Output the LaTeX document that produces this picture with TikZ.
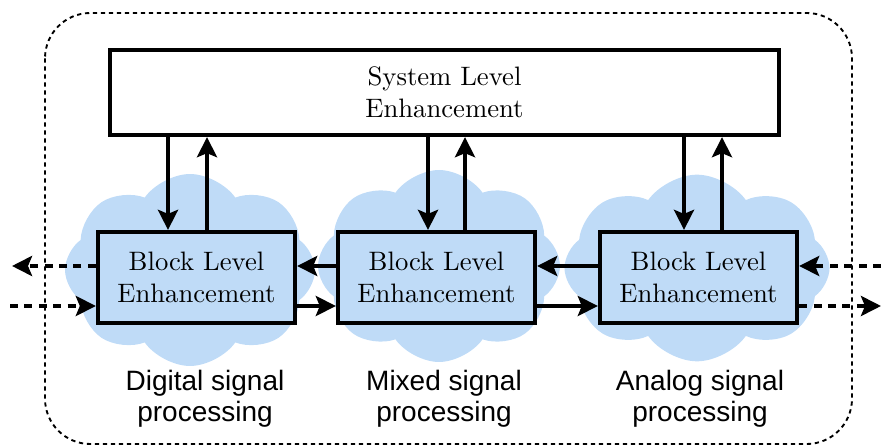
\documentclass[tikz,border=0pt]{standalone}
\usepackage{fontspec}
\usepackage{tikz}
\usetikzlibrary{arrows.meta,shapes.symbols}
\newfontfamily\labelfont{Liberation Sans}
\definecolor{cloudblue}{RGB}{164,204,244}
\definecolor{boxblue}{RGB}{191,219,247}

\begin{document}
\begin{tikzpicture}[x=0.375pt,y=-0.375pt,
    blockbox/.style={draw,line width=1.6pt,fill=boxblue,minimum width=73.9pt,minimum height=34.1pt,align=center,inner sep=0pt},
    puff/.style={cloud,cloud puffs=8,cloud puff arc=110,fill=cloudblue,fill opacity=0.7,draw=none,inner sep=0pt},
    arr/.style={line width=1.8pt,-{Stealth[length=7.5pt,width=7.5pt,inset=1.5pt]}},
    darr/.style={arr,dash pattern=on 3pt off 2.4pt},
    caption/.style={align=center,font=\labelfont\fontsize{10.5}{11.5}\selectfont}]
          \useasboundingbox (0,0) rectangle (881,445);
          \draw[line width=0.7pt,dash pattern=on 1.6pt off 1.4pt,rounded corners=17pt] (45,13) rectangle (852,444);

          % clouds behind the blocks
          \node[puff,minimum width=93.75pt,minimum height=72pt] (c1) at (190,270) {};
          \node[puff,minimum width=90.75pt,minimum height=72pt] (c2) at (439,266) {};
          \node[puff,minimum width=99.4pt,minimum height=70pt] (c3) at (697,268) {};

          \node[draw,line width=1.6pt,fill=white,minimum width=250.9pt,minimum height=31.9pt,align=center] (sys) at (444.5,92.5) {System Level\\Enhancement};
          \node[blockbox] (blk1) at (196.5,277.5) {Block Level\\Enhancement};
          \node[blockbox] (blk2) at (436.5,277.5) {Block Level\\Enhancement};
          \node[blockbox] (blk3) at (698.5,277.5) {Block Level\\Enhancement};

          \foreach \b/\dn/\up in {blk1/168/207,blk2/428/465,blk3/684/722} {
            \draw[arr] (sys.south -| \dn,0) -- (\b.north -| \dn,0);
            \draw[arr] (\b.north -| \up,0) -- (sys.south -| \up,0);
          }

          \draw[arr] (blk2.west |- 0,266) -- (blk1.east |- 0,266);
          \draw[arr] (blk3.west |- 0,266) -- (blk2.east |- 0,266);
          \draw[arr] (blk1.east |- 0,306) -- (blk2.west |- 0,306);
          \draw[arr] (blk2.east |- 0,306) -- (blk3.west |- 0,306);

          \coordinate (outl) at (12,266);
          \coordinate (inl) at (10,306);
          \coordinate (inr) at (881,266);
          \coordinate (outr) at (881,306);
          \draw[darr] (blk1.west |- outl) -- (outl);
          \draw[darr] (inl) -- (blk1.west |- inl);
          \draw[darr] (inr) -- (blk3.east |- inr);
          \draw[darr] (blk3.east |- outr) -- (outr);

          \node[caption] (l1) at (205,399) {Digital signal\\processing};
          \node[caption] (l2) at (444,399) {Mixed signal\\processing};
          \node[caption] (l3) at (700,399) {Analog signal\\processing};
        \end{tikzpicture}
\end{document}
